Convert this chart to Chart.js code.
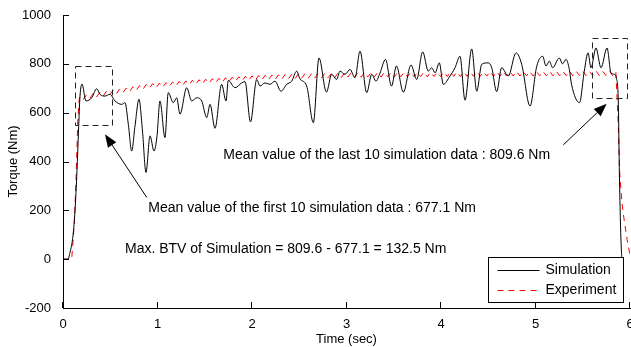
<!DOCTYPE html>
<html>
<head>
<meta charset="utf-8">
<script src="https://cdn.jsdelivr.net/npm/chart.js@4.4.1/dist/chart.umd.min.js"></script>
<style>
  html, body { margin: 0; padding: 0; background: #fff; }
  #wrap { width: 631px; height: 347px; }
</style>
</head>
<body>
<div id="wrap"><canvas id="chart"></canvas></div>
<script>
// Simulation trace (time in sec, torque in Nm)
const simTime = [
  0, 0.053, 0.074, 0.106, 0.127, 0.148, 0.164, 0.180, 0.201, 0.243,
  0.304, 0.357, 0.392, 0.444, 0.497, 0.550, 0.621, 0.656, 0.691, 0.727,
  0.762, 0.804, 0.841, 0.878, 0.921, 0.963, 0.995, 1.026, 1.079, 1.114,
  1.167, 1.203, 1.238, 1.309, 1.362, 1.415, 1.468, 1.521, 1.556, 1.608,
  1.679, 1.725, 1.749, 1.820, 1.891, 1.926, 1.984, 2.050, 2.085, 2.138,
  2.190, 2.243, 2.307, 2.367, 2.420, 2.473, 2.508, 2.579, 2.649, 2.709,
  2.788, 2.843, 2.896, 2.931, 2.984, 3.037, 3.090, 3.143, 3.214, 3.267,
  3.312, 3.354, 3.413, 3.476, 3.529, 3.601, 3.683, 3.743, 3.806, 3.866,
  3.902, 3.937, 3.982, 4.024, 4.095, 4.148, 4.201, 4.254, 4.325, 4.378,
  4.431, 4.501, 4.537, 4.589, 4.642, 4.712, 4.794, 4.854, 4.942, 5.013,
  5.076, 5.111, 5.146, 5.182, 5.252, 5.286, 5.323, 5.358, 5.381, 5.466,
  5.516, 5.556, 5.587, 5.640, 5.693, 5.757, 5.799, 5.836, 5.857, 5.876,
  5.889, 5.912, 5.920
];
const simTorque = [
  0, 0, 27, 97, 199, 362, 525, 668, 717, 648,
  661, 698, 675, 668, 675, 648, 634, 641, 553, 443,
  546, 655, 525, 355, 505, 443, 505, 648, 498, 682,
  641, 661, 594, 702, 648, 661, 648, 580, 634, 536,
  716, 648, 732, 702, 722, 727, 562, 736, 709, 722,
  716, 729, 688, 716, 729, 770, 738, 709, 559, 824,
  684, 757, 736, 770, 757, 777, 743, 852, 682, 757,
  729, 762, 818, 709, 791, 684, 795, 736, 849, 770,
  784, 763, 804, 716, 750, 784, 831, 651, 861, 688,
  798, 804, 784, 686, 784, 750, 845, 798, 627, 790,
  831, 791, 811, 784, 824, 800, 818, 777, 716, 641,
  770, 845, 784, 865, 784, 865, 763, 757, 740, 648,
  320, 15, 0
];

// Experiment: start-up ramp, rippled plateau sampled every 0.035 s, shut-down tail
const expRampTime = [0, 0.092, 0.12, 0.14, 0.155, 0.17];
const expRampTorque = [0, 0, 150, 350, 550, 650];
const expRippleStart = 0.18;
const expRippleStep = 0.035;
const expRipple = [
  668, 655, 674, 659, 679, 664, 683, 668, 688, 673,
  693, 677, 697, 682, 701, 686, 706, 691, 711, 695,
  715, 700, 719, 702, 721, 704, 723, 707, 726, 709,
  728, 711, 730, 714, 733, 716, 735, 718, 737, 720,
  739, 722, 741, 724, 743, 726, 745, 728, 747, 730,
  749, 732, 751, 733, 752, 734, 753, 735, 754, 736,
  755, 737, 756, 738, 757, 739, 759, 741, 759, 741,
  760, 742, 760, 742, 761, 743, 761, 743, 762, 744,
  763, 746, 764, 746, 764, 745, 765, 746, 764, 747,
  765, 746, 765, 747, 764, 746, 765, 747, 765, 747,
  766, 747, 765, 748, 766, 747, 766, 748, 766, 748,
  767, 748, 766, 749, 767, 748, 767, 749, 767, 749,
  768, 749, 767, 750, 768, 749, 768, 750, 768, 750,
  768, 750, 769, 750, 768, 751, 769, 750, 769, 751,
  769, 751, 769, 751, 770, 751, 769, 752, 770, 751,
  770, 752, 770, 752, 770, 752, 771, 752, 770, 753,
  771, 752, 768
];
const expTailTime = [5.875, 5.89, 5.915, 5.94, 5.97, 6.0];
const expTailTorque = [560, 360, 230, 155, 80, 15];

const xTicks = [0, 1, 2, 3, 4, 5, 6];
const yTicks = [-200, 0, 200, 400, 600, 800, 1000];

// annotation boxes / arrows / notes, in data units (sec, Nm)
const firstBox = { t0: 0.13, t1: 0.515, v0: 549, v1: 790 };
const lastBox = { t0: 5.593, t1: 5.964, v0: 659, v1: 906 };
const firstArrow = { from: [0.886, 253], to: [0.444, 512] };
const lastArrow = { from: [5.294, 468], to: [5.753, 637] };
const notes = [
  { t: 1.696, v: 411, text: 'Mean value of the last 10 simulation data : 809.6 Nm' },
  { t: 0.903, v: 195, text: 'Mean value of the first 10 simulation data : 677.1 Nm' },
  { t: 0.656, v: 27, text: 'Max. BTV of Simulation = 809.6 - 677.1 = 132.5 Nm' }
];

const FONT = "'Liberation Sans', Arial, Helvetica, sans-serif";

const simPoints = simTime.map((t, i) => ({ x: t, y: simTorque[i] }));
const expPoints = [
  ...expRampTime.map((t, i) => ({ x: t, y: expRampTorque[i] })),
  ...expRipple.map((v, i) => ({ x: expRippleStart + i * expRippleStep, y: v })),
  ...expTailTime.map((t, i) => ({ x: t, y: expTailTorque[i] }))
];

function drawArrow(ctx, x0, y0, x1, y1) {
  const ang = Math.atan2(y1 - y0, x1 - x0);
  const len = 13, half = 5;
  const bx = x1 - len * Math.cos(ang), by = y1 - len * Math.sin(ang);
  ctx.beginPath();
  ctx.moveTo(x0, y0);
  ctx.lineTo(bx, by);
  ctx.stroke();
  ctx.beginPath();
  ctx.moveTo(x1, y1);
  ctx.lineTo(bx + half * Math.sin(ang), by - half * Math.cos(ang));
  ctx.lineTo(bx - half * Math.sin(ang), by + half * Math.cos(ang));
  ctx.closePath();
  ctx.fill();
}

const extras = {
  id: 'extras',
  afterDatasetsDraw(chart) {
    const { ctx, chartArea: area, scales: { x, y } } = chart;
    ctx.save();

    // inward tick marks
    ctx.strokeStyle = '#000';
    ctx.lineWidth = 1;
    ctx.beginPath();
    xTicks.forEach(v => {
      const px = Math.round(x.getPixelForValue(v)) - 0.5;
      ctx.moveTo(px, area.bottom);
      ctx.lineTo(px, area.bottom - 6);
    });
    yTicks.forEach(v => {
      const py = Math.round(y.getPixelForValue(v)) + 0.5;
      ctx.moveTo(area.left, py);
      ctx.lineTo(area.left + 6, py);
    });
    ctx.stroke();

    // dashed boxes round the first and last 10 samples
    ctx.strokeStyle = '#222';
    ctx.setLineDash([6, 4]);
    [firstBox, lastBox].forEach(b => {
      const l = Math.round(x.getPixelForValue(b.t0)) + 0.5;
      const r = Math.round(x.getPixelForValue(b.t1)) + 0.5;
      const t = Math.round(y.getPixelForValue(b.v1)) + 0.5;
      const bt = Math.round(y.getPixelForValue(b.v0)) + 0.5;
      ctx.strokeRect(l, t, r - l, bt - t);
    });
    ctx.setLineDash([]);

    // arrows
    ctx.strokeStyle = '#000';
    ctx.fillStyle = '#000';
    [firstArrow, lastArrow].forEach(a => {
      drawArrow(ctx,
        x.getPixelForValue(a.from[0]), y.getPixelForValue(a.from[1]),
        x.getPixelForValue(a.to[0]), y.getPixelForValue(a.to[1]));
    });

    // notes
    ctx.font = '14px ' + FONT;
    ctx.textAlign = 'left';
    ctx.textBaseline = 'alphabetic';
    notes.forEach(n => {
      ctx.fillText(n.text, x.getPixelForValue(n.t), y.getPixelForValue(n.v));
    });

    // legend box, bottom right
    const lw = 135, lh = 45;
    const lx = Math.round(area.right - 7 - lw) + 0.5;
    const ly = Math.round(area.bottom - 6 - lh) + 0.5;
    ctx.fillStyle = '#fff';
    ctx.fillRect(lx, ly, lw, lh);
    ctx.strokeStyle = '#000';
    ctx.strokeRect(lx, ly, lw, lh);
    ctx.beginPath();
    ctx.moveTo(lx + 9, ly + 13);
    ctx.lineTo(lx + 51, ly + 13);
    ctx.stroke();
    ctx.strokeStyle = '#ff0000';
    ctx.setLineDash([6, 5]);
    ctx.beginPath();
    ctx.moveTo(lx + 9, ly + 33);
    ctx.lineTo(lx + 51, ly + 33);
    ctx.stroke();
    ctx.setLineDash([]);
    ctx.fillStyle = '#000';
    ctx.textBaseline = 'middle';
    ctx.fillText('Simulation', lx + 57, ly + 13);
    ctx.fillText('Experiment', lx + 57, ly + 33);

    ctx.restore();
  }
};

new Chart(document.getElementById('chart'), {
  type: 'line',
  data: {
    datasets: [
      {
        label: 'Simulation',
        data: simPoints,
        borderColor: '#000',
        borderWidth: 1,
        pointRadius: 0,
        cubicInterpolationMode: 'monotone',
        fill: false
      },
      {
        label: 'Experiment',
        data: expPoints,
        borderColor: '#ff0000',
        borderWidth: 1,
        borderDash: [6, 5],
        pointRadius: 0,
        tension: 0,
        fill: false
      }
    ]
  },
  options: {
    responsive: true,
    maintainAspectRatio: false,
    animation: false,
    devicePixelRatio: 1,
    layout: { padding: { top: 15, right: 1, left: 0, bottom: 0 } },
    plugins: {
      legend: { display: false },
      tooltip: { enabled: false }
    },
    scales: {
      x: {
        type: 'linear',
        min: 0,
        max: 6,
        ticks: {
          stepSize: 1,
          maxRotation: 0,
          color: '#000',
          padding: 1,
          font: { family: FONT, size: 13 },
          callback: v => String(v)
        },
        grid: { display: false },
        border: { display: true, color: '#000', width: 1 },
        title: {
          display: true,
          text: 'Time (sec)',
          color: '#000',
          font: { family: FONT, size: 13 },
          padding: { top: 0, bottom: 0 }
        },
        afterFit(s) {
          s.height = 39;
          s.paddingLeft = 0;
          s.paddingRight = 0;
        }
      },
      y: {
        min: -200,
        max: 1000,
        ticks: {
          stepSize: 200,
          color: '#000',
          padding: 4,
          font: { family: FONT, size: 13 },
          callback: v => String(v)
        },
        grid: { display: false },
        border: { display: true, color: '#000', width: 1 },
        title: {
          display: true,
          text: 'Torque (Nm)',
          color: '#000',
          font: { family: FONT, size: 13 },
          padding: { top: 6, bottom: 0 }
        },
        afterFit(s) {
          s.width = 63;
          s.paddingTop = 0;
          s.paddingBottom = 0;
        }
      }
    }
  },
  plugins: [extras]
});
</script>
</body>
</html>
